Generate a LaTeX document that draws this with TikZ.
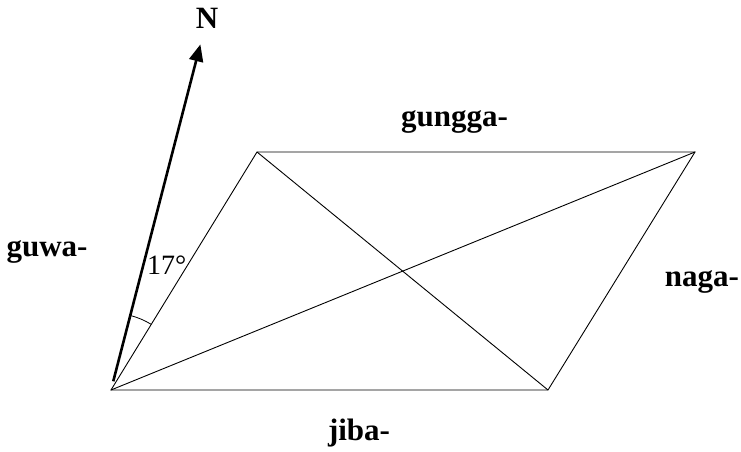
\documentclass[tikz,border=0pt]{standalone}
\usepackage{fontspec}
\setmainfont{Liberation Serif}
\usetikzlibrary{arrows.meta,calc}
\begin{document}
\begin{tikzpicture}[x=1pt,y=1pt,
  edge/.style={line width=0.9pt, line join=miter},
  lbl/.style={font=\fontsize{31}{31}\selectfont\bfseries, anchor=base, inner sep=0pt},
  northarrow/.style={line width=2.6pt, -{Triangle[length=17pt,width=14pt]}}]
\useasboundingbox (0,0) rectangle (741,452);
\coordinate (BL) at (111,62);
\coordinate (BR) at (548,62);
\coordinate (TR) at (695,300);
\coordinate (TL) at (257,300);
\coordinate (S) at ($(BL)+(75.5:9)$);
\coordinate (T) at ($(BL)+(75.5:357)$);
\draw[edge] (BL) -- (BR) -- (TR) -- (TL) -- cycle;
\draw[edge] (BL) -- (TR);
\draw[edge] (TL) -- (BR);
\draw[northarrow] (S) -- (T);
\draw[line width=0.8pt] (BL) ++(58.5:77) arc[start angle=58.5, end angle=75.5, radius=77];
\node[lbl] (n) at (207,423) {N};
\node[lbl] (top) at (454.5,325) {gungga-};
\node[lbl] (left) at (47,195) {guwa-};
\node[lbl] (right) at (702,165) {naga-};
\node[lbl] (bottom) at (359,11) {jiba-};
\node[font=\fontsize{28}{28}\selectfont, anchor=base west, inner sep=0pt] (ang) at (147,177) {17°};
\end{tikzpicture}
\end{document}
